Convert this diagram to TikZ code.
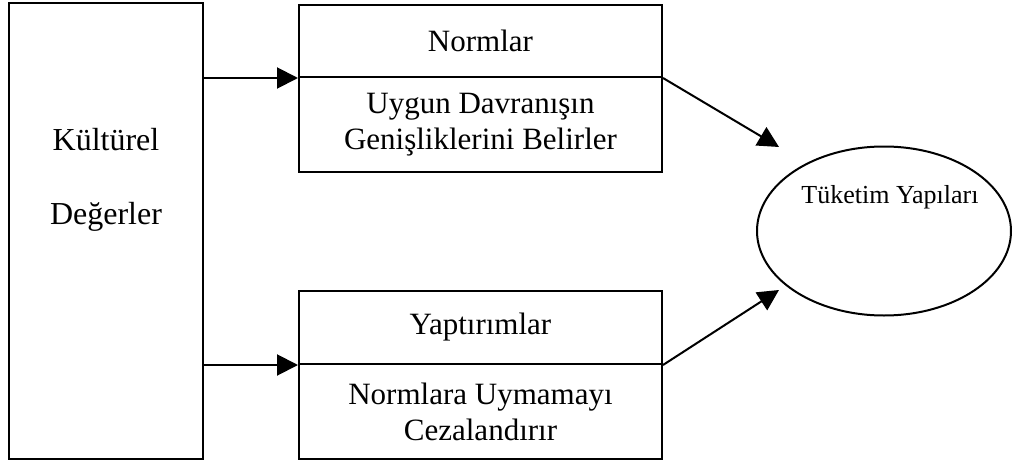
\documentclass[tikz,border=0pt]{standalone}
\usepackage{fontspec}
\setmainfont{Liberation Serif}
\usetikzlibrary{arrows.meta,shapes.geometric}
\begin{document}
\begin{tikzpicture}[x=1pt,y=-1pt,
  line width=2pt,
  box/.style={draw,rectangle,inner sep=0pt,anchor=north west,align=center,
    font=\fontsize{31}{36}\selectfont},
  arr/.style={-{Triangle[length=21pt,width=21pt]}},
  txt/.style={align=center,font=\fontsize{32}{74}\selectfont}]
\useasboundingbox (0,0) rectangle (1013,463);

% left block
\node[box,minimum width=194pt,minimum height=456pt] (kd) at (8,2) {};
\node[txt] (kdtext) at (106,180) {Kültürel\\Değerler};

% norms block: heading and body
\node[box,minimum width=363pt,minimum height=72pt] (nh) at (298,4) {Normlar};
\node[box,minimum width=363pt,minimum height=95pt] (nb) at (298,76)
  {Uygun Davranışın\\Genişliklerini Belirler};

% sanctions block: heading and body
\node[box,minimum width=363pt,minimum height=73pt] (yh) at (298,290) {Yaptırımlar};
\node[box,minimum width=363pt,minimum height=95pt] (yb) at (298,363)
  {Normlara Uymamayı\\Cezalandırır};

% outcome ellipse
\node[draw,ellipse,minimum width=254pt,minimum height=169pt,inner sep=0pt] (tk) at (884,231) {};
\node[font=\fontsize{26}{30}\selectfont] (tktext) at (890,197) {Tüketim Yapıları};

% arrow tips near the ellipse
\coordinate (t1) at (779,147);
\coordinate (t2) at (779,290);

% connectors
\draw[arr] (kd.east |- nh.south west) -- (nh.south west);
\draw[arr] (kd.east |- yh.south west) -- (yh.south west);
\draw[arr] (nh.south east) -- (t1);
\draw[arr] (yh.south east) -- (t2);
\end{tikzpicture}
\end{document}
